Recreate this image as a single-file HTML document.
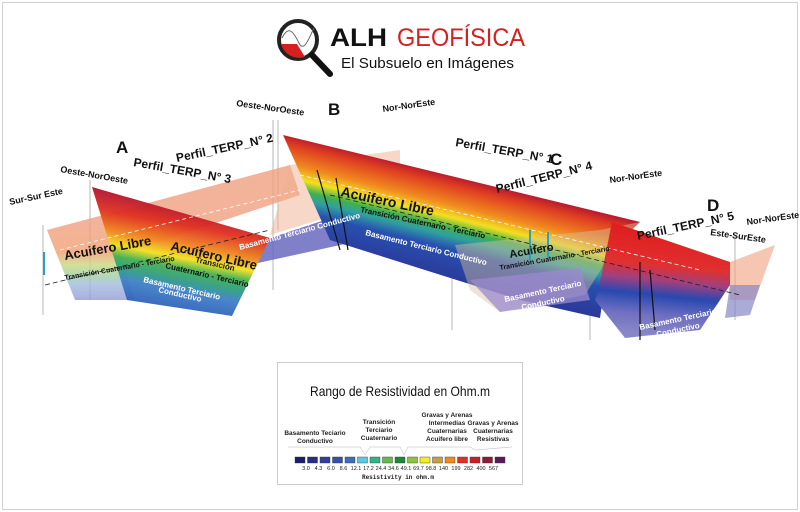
<!DOCTYPE html>
<html><head><meta charset="utf-8"><style>
html,body{margin:0;padding:0;background:#fff}
#w{position:relative;width:800px;height:512px;overflow:hidden;font-family:"Liberation Sans",sans-serif}
svg{position:absolute;left:0;top:0}
</style></head><body><div id="w">
<svg width="800" height="512" viewBox="0 0 800 512">
<defs>
<linearGradient id="gA" gradientUnits="userSpaceOnUse" x1="190" y1="205" x2="170" y2="310">
<stop offset="0" stop-color="#b01030"/><stop offset=".2" stop-color="#e03020"/><stop offset=".38" stop-color="#f08a20"/><stop offset=".5" stop-color="#f2e020"/><stop offset=".6" stop-color="#40b050"/><stop offset=".72" stop-color="#2f9a8a"/><stop offset=".8" stop-color="#4080c8"/><stop offset="1" stop-color="#3060b8"/></linearGradient>
<linearGradient id="gL" gradientUnits="userSpaceOnUse" x1="80" y1="225" x2="80" y2="305">
<stop offset="0" stop-color="#f0a080"/><stop offset=".35" stop-color="#f0a070"/><stop offset=".5" stop-color="#c8d880"/><stop offset=".62" stop-color="#a0d0a0"/><stop offset=".75" stop-color="#a0b8e0"/><stop offset="1" stop-color="#9090d0"/></linearGradient>
<linearGradient id="gB" gradientUnits="userSpaceOnUse" x1="420" y1="165" x2="395" y2="265">
<stop offset="0" stop-color="#b01030"/><stop offset=".12" stop-color="#e04020"/><stop offset=".3" stop-color="#f08a20"/><stop offset=".42" stop-color="#f2e020"/><stop offset=".52" stop-color="#40b050"/><stop offset=".6" stop-color="#30a0a0"/><stop offset=".72" stop-color="#2850b0"/><stop offset="1" stop-color="#2a3a9a"/></linearGradient>
<linearGradient id="gD" gradientUnits="userSpaceOnUse" x1="660" y1="235" x2="650" y2="335">
<stop offset="0" stop-color="#e02020"/><stop offset=".3" stop-color="#e03030"/><stop offset=".45" stop-color="#a04080"/><stop offset=".6" stop-color="#2848b0"/><stop offset=".8" stop-color="#7070c0"/><stop offset="1" stop-color="#8888c8"/></linearGradient>
</defs>
<rect x="2.5" y="2.5" width="795" height="507" fill="none" stroke="#d0d0d0"/>
<g stroke="#999" stroke-width="0.7">
<line x1="43" y1="225" x2="43" y2="315"/><line x1="90" y1="180" x2="90" y2="300"/>
<line x1="273" y1="120" x2="273" y2="290"/><line x1="278" y1="120" x2="278" y2="230"/>
<line x1="452" y1="200" x2="452" y2="330"/><line x1="590" y1="215" x2="590" y2="340"/>
<line x1="735" y1="235" x2="735" y2="320"/>
</g>
<polygon points="47,230 290,165 300,195 120,255 135,300 75,300" fill="url(#gL)" opacity=".8"/>
<polygon points="240,248 400,195 400,232 235,268" fill="#6a6ac0" opacity=".85"/>
<polygon points="270,235 290,165 400,150 400,195" fill="#f0b090" opacity=".5"/>
<polygon points="92,187 270,238 232,316 127,300" fill="url(#gA)" opacity=".95"/>
<polygon points="283,135 640,222 610,250 600,318 520,300 330,240" fill="url(#gB)"/>
<polygon points="455,245 600,230 640,222 610,255 585,295 500,312 470,290" fill="#d8c0a0" opacity=".45"/>
<polygon points="470,280 580,268 590,300 500,312" fill="#9b8ad0" opacity=".75"/>
<polygon points="612,222 730,262 730,285 700,330 625,338 595,300 598,292" fill="url(#gD)"/>
<polygon points="730,262 775,245 755,300 730,300" fill="#f0a080" opacity=".6"/>
<polygon points="730,285 760,285 750,315 725,318" fill="#8888c8" opacity=".7"/>
<g stroke="#fff" stroke-width="0.8" stroke-dasharray="4,3" fill="none">
<line x1="60" y1="250" x2="300" y2="190"/><line x1="300" y1="175" x2="700" y2="270"/>
</g>
<g stroke="#222" stroke-width="0.8" stroke-dasharray="5,3" fill="none">
<line x1="45" y1="285" x2="270" y2="230"/><line x1="330" y1="195" x2="740" y2="295"/>
</g>
<g stroke="#111" stroke-width="1.2"><line x1="317" y1="170" x2="340" y2="250"/><line x1="336" y1="178" x2="348" y2="250"/><line x1="640" y1="262" x2="640" y2="340"/><line x1="650" y1="270" x2="655" y2="330"/></g>
<g stroke="#2aa0c8" stroke-width="2"><line x1="44" y1="252" x2="44" y2="275"/><line x1="530" y1="230" x2="530" y2="262"/><line x1="548" y1="232" x2="548" y2="258"/></g>
<g font-family="Liberation Sans,sans-serif" font-weight="bold" fill="#111">
<text x="116" y="153" font-size="17">A</text>
<text x="328" y="115" font-size="17">B</text>
<text x="550" y="165" font-size="17">C</text>
<text x="707" y="211" font-size="17">D</text>
<text x="60" y="172" font-size="9" transform="rotate(10 60 172)">Oeste-NorOeste</text>
<text x="10" y="205" font-size="9" transform="rotate(-12 10 205)">Sur-Sur Este</text>
<text x="236" y="106" font-size="9" transform="rotate(8 236 106)">Oeste-NorOeste</text>
<text x="383" y="112" font-size="9" transform="rotate(-8 383 112)">Nor-NorEste</text>
<text x="610" y="183" font-size="9" transform="rotate(-8 610 183)">Nor-NorEste</text>
<text x="747" y="225" font-size="9" transform="rotate(-8 747 225)">Nor-NorEste</text>
<text x="710" y="235" font-size="9" transform="rotate(8 710 235)">Este-SurEste</text>
<text x="133" y="166" font-size="12" transform="rotate(10 133 166)">Perfil_TERP_N° 3</text>
<text x="177" y="162" font-size="12" transform="rotate(-12 177 162)">Perfil_TERP_N° 2</text>
<text x="455" y="146" font-size="12" transform="rotate(10 455 146)">Perfil_TERP_N° 1</text>
<text x="497" y="193" font-size="12" transform="rotate(-14 497 193)">Perfil_TERP_N° 4</text>
<text x="638" y="240" font-size="12" transform="rotate(-12 638 240)">Perfil_TERP_N° 5</text>
<text x="65" y="260" font-size="13" transform="rotate(-10 65 260)">Acuifero Libre</text>
<text x="170" y="250" font-size="13" transform="rotate(13 170 250)">Acuifero Libre</text>
<text x="340" y="196" font-size="14" transform="rotate(12 340 196)">Acuifero Libre</text>
<text x="510" y="258" font-size="11" transform="rotate(-10 510 258)">Acuifero</text>
<text x="65" y="280" font-size="7" transform="rotate(-10 65 280)">Transición Cuaternario - Terciario</text>
<text x="195" y="262" font-size="8" transform="rotate(13 195 262)">Transición</text>
<text x="165" y="268" font-size="8" transform="rotate(13 165 268)">Cuaternario - Terciario</text>
<text x="360" y="212" font-size="8" transform="rotate(12 360 212)">Transición Cuaternario - Terciario</text>
<text x="500" y="270" font-size="7" transform="rotate(-10 500 270)">Transición Cuaternario - Terciario</text>
</g>
<g font-family="Liberation Sans,sans-serif" font-weight="bold" fill="#fff">
<text x="143" y="282" font-size="8" transform="rotate(13 143 282)">Basamento Terciario</text>
<text x="158" y="292" font-size="8" transform="rotate(13 158 292)">Conductivo</text>
<text x="240" y="250" font-size="8" transform="rotate(-15 240 250)">Basamento Terciario Conductivo</text>
<text x="365" y="235" font-size="8" transform="rotate(14 365 235)">Basamento Terciario Conductivo</text>
<text x="505" y="302" font-size="8" transform="rotate(-12 505 302)">Basamento Terciario</text>
<text x="522" y="310" font-size="8" transform="rotate(-12 522 310)">Conductivo</text>
<text x="640" y="330" font-size="8" transform="rotate(-12 640 330)">Basamento Terciario</text>
<text x="657" y="337" font-size="8" transform="rotate(-12 657 337)">Conductivo</text>
</g>
<!-- logo -->
<circle cx="298" cy="40" r="19" fill="#fff" stroke="#222" stroke-width="4"/>
<path d="M281,44 L297,44 L305,57 A19,19 0 0 1 281,44Z" fill="#d42020"/>
<path d="M282,38 C289,24 294,33 299,43 S309,38 314,28" stroke="#666" fill="none"/>
<line x1="312" y1="55" x2="330" y2="74" stroke="#111" stroke-width="6" stroke-linecap="round"/>
<text x="330" y="46" font-size="25" font-weight="bold" fill="#111" textLength="57" lengthAdjust="spacingAndGlyphs">ALH</text>
<text x="397" y="46" font-size="25" fill="#d42020" textLength="128" lengthAdjust="spacingAndGlyphs">GEOFÍSICA</text>
<text x="341" y="68" font-size="15" fill="#111" textLength="173" lengthAdjust="spacingAndGlyphs">El Subsuelo en Imágenes</text>
<!-- legend -->
<rect x="277.5" y="362.5" width="245" height="122" fill="#fff" stroke="#ccc"/>
<text x="400" y="396" font-size="14" text-anchor="middle" fill="#111" textLength="180" lengthAdjust="spacingAndGlyphs">Rango de Resistividad en Ohm.m</text>
<g font-size="6.5" font-weight="bold" text-anchor="middle" fill="#222">
<text x="315" y="435">Basamento Teciario</text><text x="315" y="443">Conductivo</text>
<text x="379" y="424">Transición</text><text x="379" y="432">Terciario</text><text x="379" y="440">Cuaternario</text>
<text x="447" y="417">Gravas y Arenas</text><text x="447" y="425">Intermedias</text><text x="447" y="433">Cuaternarias</text><text x="447" y="441">Acuifero libre</text>
<text x="493" y="425">Gravas y Arenas</text><text x="493" y="433">Cuaternarias</text><text x="493" y="441">Resistivas</text>
</g>
<polyline points="288,447 360,447 365,455 370,447 400,447 404,455 408,447 470,447 475,450 512,447" fill="none" stroke="#ccc" stroke-width="0.7"/>
<g stroke="#333" stroke-width="0.4">
<rect x="295" y="457" width="10" height="6" fill="#1b1f6b"/><rect x="307.5" y="457" width="10" height="6" fill="#252d85"/><rect x="320" y="457" width="10" height="6" fill="#2f3f9a"/><rect x="332.5" y="457" width="10" height="6" fill="#3651a8"/><rect x="345" y="457" width="10" height="6" fill="#3e6fbb"/><rect x="357.5" y="457" width="10" height="6" fill="#5ec8e0"/><rect x="370" y="457" width="10" height="6" fill="#2fb58a"/><rect x="382.5" y="457" width="10" height="6" fill="#64bb4a"/><rect x="395" y="457" width="10" height="6" fill="#1d8a3a"/><rect x="407.5" y="457" width="10" height="6" fill="#8cc63f"/><rect x="420" y="457" width="10" height="6" fill="#f2ee20"/><rect x="432.5" y="457" width="10" height="6" fill="#c8a040"/><rect x="445" y="457" width="10" height="6" fill="#f08a20"/><rect x="457.5" y="457" width="10" height="6" fill="#e0302a"/><rect x="470" y="457" width="10" height="6" fill="#c8202a"/><rect x="482.5" y="457" width="10" height="6" fill="#901838"/><rect x="495" y="457" width="10" height="6" fill="#5a1a60"/>
</g>
<g font-size="5.5" text-anchor="middle" fill="#222">
<text x="306" y="470">3.0</text><text x="318.5" y="470">4.3</text><text x="331" y="470">6.0</text><text x="343.5" y="470">8.6</text><text x="356" y="470">12.1</text><text x="368.5" y="470">17.2</text><text x="381" y="470">24.4</text><text x="393.5" y="470">34.6</text><text x="406" y="470">49.1</text><text x="418.5" y="470">69.7</text><text x="431" y="470">98.8</text><text x="443.5" y="470">140</text><text x="456" y="470">199</text><text x="468.5" y="470">282</text><text x="481" y="470">400</text><text x="493.5" y="470">567</text>
</g>
<text x="398" y="479" font-size="6" font-family="Liberation Mono,monospace" font-weight="bold" text-anchor="middle" fill="#222">Resistivity in ohm.m</text>
</svg>
</div></body></html>
